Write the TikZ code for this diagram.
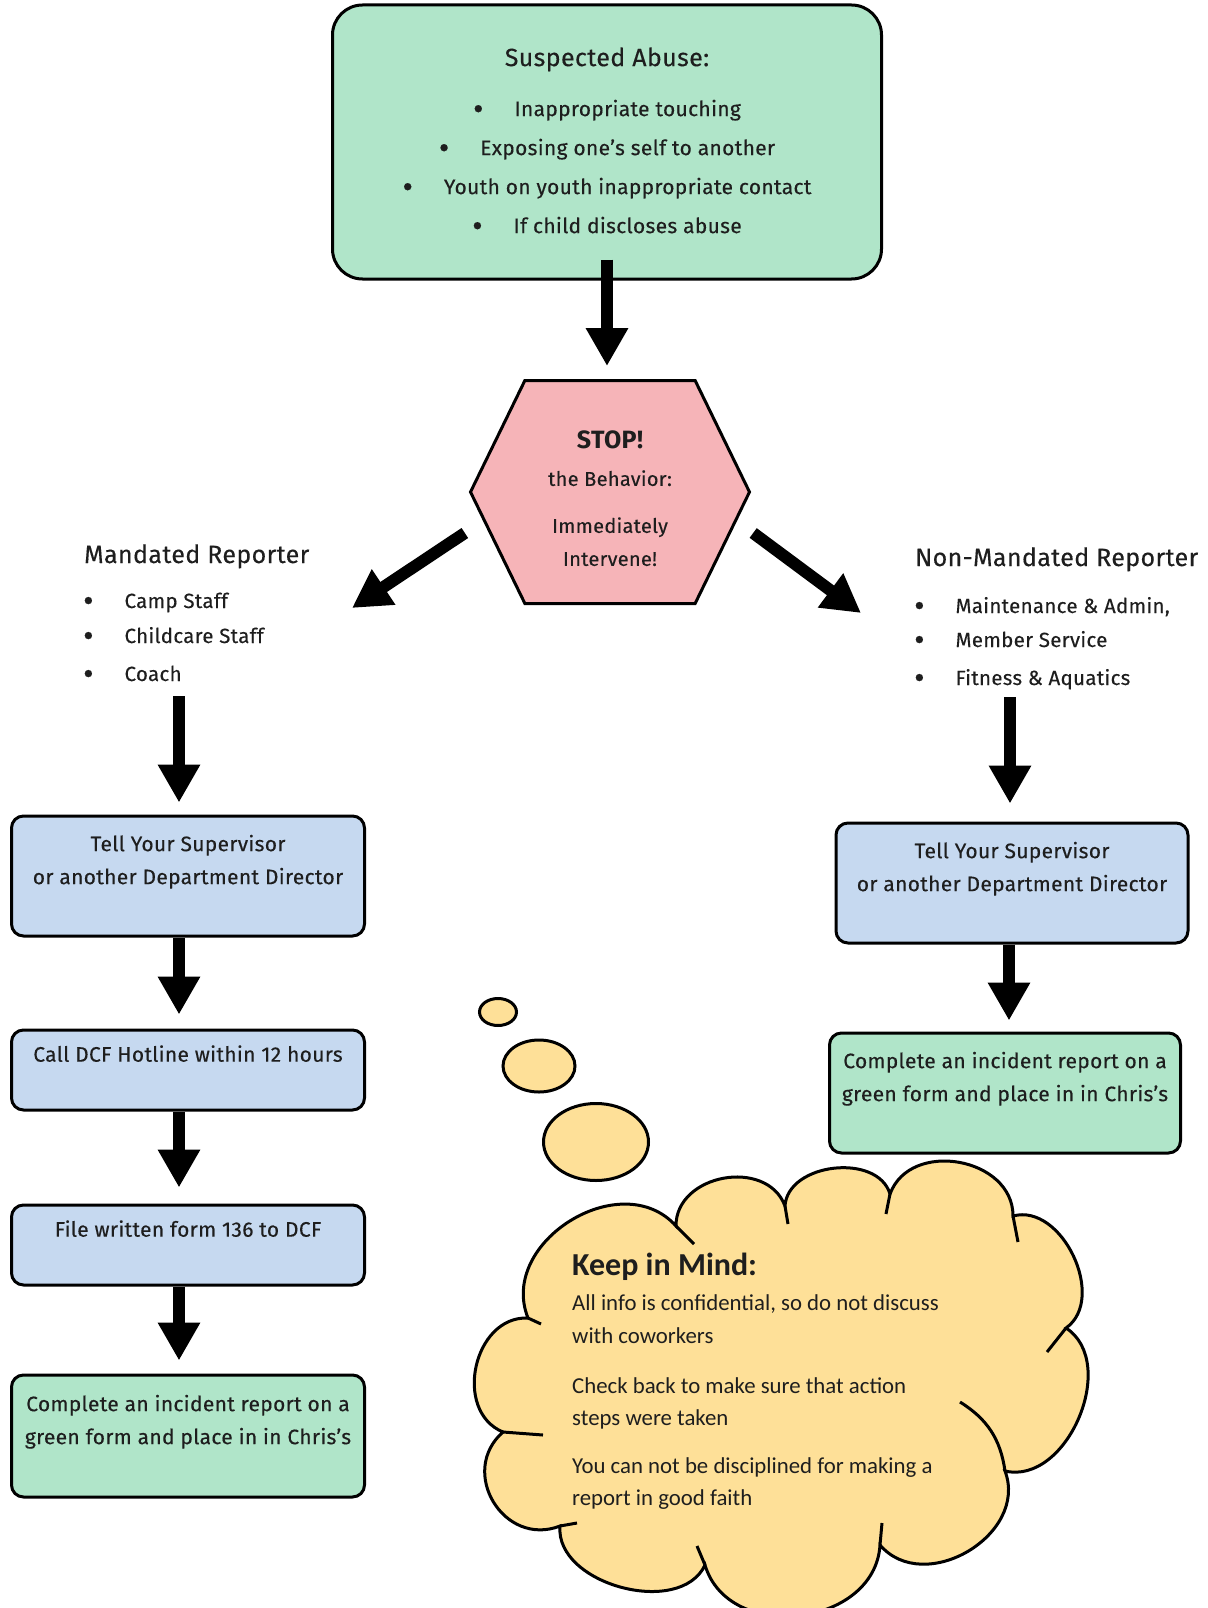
\documentclass[tikz,border=0pt]{standalone}
\usepackage{fontspec}
\setmainfont{Fira Sans}[LetterSpace=1.5, UprightFeatures={FakeBold=0.3}]
\newfontfamily\cloudfont{Carlito}
\usetikzlibrary{arrows.meta, shapes.geometric, shapes.symbols}

\definecolor{boxgreen}{RGB}{176,229,201}
\definecolor{boxblue}{RGB}{198,217,240}
\definecolor{stoppink}{RGB}{246,180,184}
\definecolor{cloudyellow}{RGB}{254,224,152}
\definecolor{inkgray}{RGB}{30,30,30}

\newcommand{\listdot}{\raisebox{-3.5pt}{\fontsize{32}{32}\selectfont\textbullet}}

\tikzset{
  stepbox/.style={draw=black, line width=3pt, rounded corners=12pt, minimum width=353pt,
    inner sep=0pt, align=center, text=inkgray, font=\fontsize{21}{33}\selectfont},
  bluebox/.style={stepbox, fill=boxblue},
  greenbox/.style={stepbox, fill=boxgreen},
  stopsign/.style={signal, signal to=east and west, signal pointer angle=128,
    draw=black, line width=3pt, fill=stoppink, minimum width=279pt, minimum height=223pt,
    inner sep=0pt, align=center, text=inkgray, font=\fontsize{20}{33}\selectfont},
  heading/.style={anchor=base west, inner sep=0pt, text=inkgray, font=\fontsize{25}{30}\selectfont},
  listitem/.style={anchor=base west, inner sep=0pt, text=inkgray, font=\fontsize{20.5}{24}\selectfont},
  mindline/.style={anchor=base west, inner sep=0pt, text=inkgray, font=\cloudfont\fontsize{22.8}{26}\selectfont},
  bubble/.style={ellipse, draw=black, line width=3pt, fill=cloudyellow, inner sep=0pt},
  puff/.style={bend left=80, looseness=1.2},
  bigarrow/.style={line width=12pt, >={Triangle[width=40pt,length=38pt]}, ->},
}

\begin{document}
\begin{tikzpicture}[x=1pt, y=-1pt]
    \useasboundingbox (0,0) rectangle (1207,1608);

    % top of the chart
    \node[greenbox, minimum width=549pt, minimum height=274pt, rounded corners=30pt,
      font=\fontsize{21}{39}\selectfont] (abuse) at (607,142)
      {{\fontsize{25}{30}\selectfont Suspected Abuse:}\\[11pt]
       \listdot\hspace{31pt}Inappropriate touching\\
       \listdot\hspace{31pt}Exposing one's self to another\\
       \listdot\hspace{31pt}Youth on youth inappropriate contact\\
       \listdot\hspace{31pt}If child discloses abuse};

    \node[stopsign] (stop) at (610,492)
      {\rule{0pt}{31pt}{\bfseries\fontsize{25}{30}\selectfont STOP!}\\[4pt]
       the Behavior:\\[14pt] Immediately\\ Intervene!};

    % the two groups of staff
    \node[heading] (mand) at (84,563) {Mandated Reporter};
    \foreach \txt/\yy [count=\i] in {Camp Staff/608, Childcare Staff/643, Coach/681}
      \node[listitem] (mitem\i) at (83,\yy) {\listdot\hspace{31pt}\txt};

    \node[heading] (nonmand) at (915,566) {Non-Mandated Reporter};
    \foreach \txt/\yy [count=\i] in {Maintenance \& Admin{,}/613, Member Service/647, Fitness \& Aquatics/685}
      \node[listitem] (nitem\i) at (914,\yy) {\listdot\hspace{31pt}\txt};

    % steps
    \node[bluebox, minimum height=120pt] (tellm) at (188,876)
      {Tell Your Supervisor\\or another Department Director\\\mbox{}};
    \node[bluebox, minimum height=80pt] (hotline) at (188,1070)
      {Call DCF Hotline within 12 hours\\\mbox{}};
    \node[bluebox, minimum height=80pt] (form) at (188,1245)
      {File written form 136 to DCF\\\mbox{}};
    \node[greenbox, minimum height=122pt] (reportm) at (188,1436)
      {Complete an incident report on a\\green form and place in in Chris's\\\mbox{}};

    \node[bluebox, minimum width=352pt, minimum height=120pt] (telln) at (1012,883)
      {Tell Your Supervisor\\or another Department Director\\\mbox{}};
    \node[greenbox, minimum width=351pt, minimum height=120pt] (reportn) at (1005,1093)
      {Complete an incident report on a\\green form and place in in Chris's\\\mbox{}};

    % arrows
    \coordinate (mandtip) at (352,608);
    \coordinate (nontip) at (861,613);
    \coordinate (mandstart) at (179,696);
    \coordinate (nonstart) at (1010,697);

    \draw[bigarrow] ([yshift=21pt]abuse.south) -- ([yshift=13pt]abuse.south |- stop.north);
    \draw[bigarrow] ([xshift=-4pt,yshift=-41pt]stop.west) -- (mandtip);
    \draw[bigarrow] ([xshift=2pt,yshift=-41pt]stop.east) -- (nontip);
    \draw[bigarrow] (mandstart) -- ([yshift=12pt]mandstart |- tellm.north);
    \draw[bigarrow] ([xshift=-9pt]tellm.south) -- ([xshift=-9pt,yshift=14pt]hotline.north);
    \draw[bigarrow] ([xshift=-9pt]hotline.south) -- ([xshift=-9pt,yshift=16pt]form.north);
    \draw[bigarrow] ([xshift=-9pt]form.south) -- ([xshift=-9pt,yshift=13pt]reportm.north);
    \draw[bigarrow] (nonstart) -- ([yshift=18pt]nonstart |- telln.north);
    \draw[bigarrow] ([xshift=-3pt]telln.south) -- ([xshift=-3pt,yshift=11pt]telln.south |- reportn.north);

    % thought cloud
    \node[bubble, minimum width=37pt, minimum height=27pt] (bub1) at (498,1012) {};
    \node[bubble, minimum width=72pt, minimum height=52pt] (bub2) at (539,1066) {};
    \node[bubble, minimum width=105pt, minimum height=77pt] (bub3) at (596,1142) {};

    \draw[line width=3pt, fill=cloudyellow]
      (528,1318) to[puff] (676,1226) to[puff] (785,1206) to[puff, looseness=1.05] (890,1194)
      to[puff] (1013,1216) to[puff, looseness=1.05] (1066,1328) to[puff, looseness=1.05] (1005,1471)
      to[puff] (880,1545) to[puff] (705,1565) to[puff, looseness=1] (560,1526)
      to[puff, looseness=1.4] (503,1432) to[puff] (528,1318) -- cycle;
    \draw[line width=3pt]
      (528,1318) -- (541,1324) (676,1226) -- (694,1244) (785,1206) -- (788,1224)
      (890,1194) -- (886,1214) (1013,1216) -- (1018,1242) (1066,1328) -- (1047,1352)
      (1005,1471) to[bend right=25] (960,1402) (880,1545) -- (882,1523)
      (705,1565) -- (697,1546) (560,1526) -- (577,1523) (503,1432) -- (543,1435);

    \node[mindline, font=\cloudfont\bfseries\fontsize{32}{36}\selectfont] (mindhead) at (572,1275) {Keep in Mind:};
    \node[mindline] (mind1) at (572,1310) {All info is confidential, so do not discuss};
    \node[mindline] (mind2) at (572,1343) {with coworkers};
    \node[mindline] (mind3) at (572,1393) {Check back to make sure that action};
    \node[mindline] (mind4) at (572,1425) {steps were taken};
    \node[mindline] (mind5) at (572,1473) {You can not be disciplined for making a};
    \node[mindline] (mind6) at (572,1505) {report in good faith};
\end{tikzpicture}
\end{document}
